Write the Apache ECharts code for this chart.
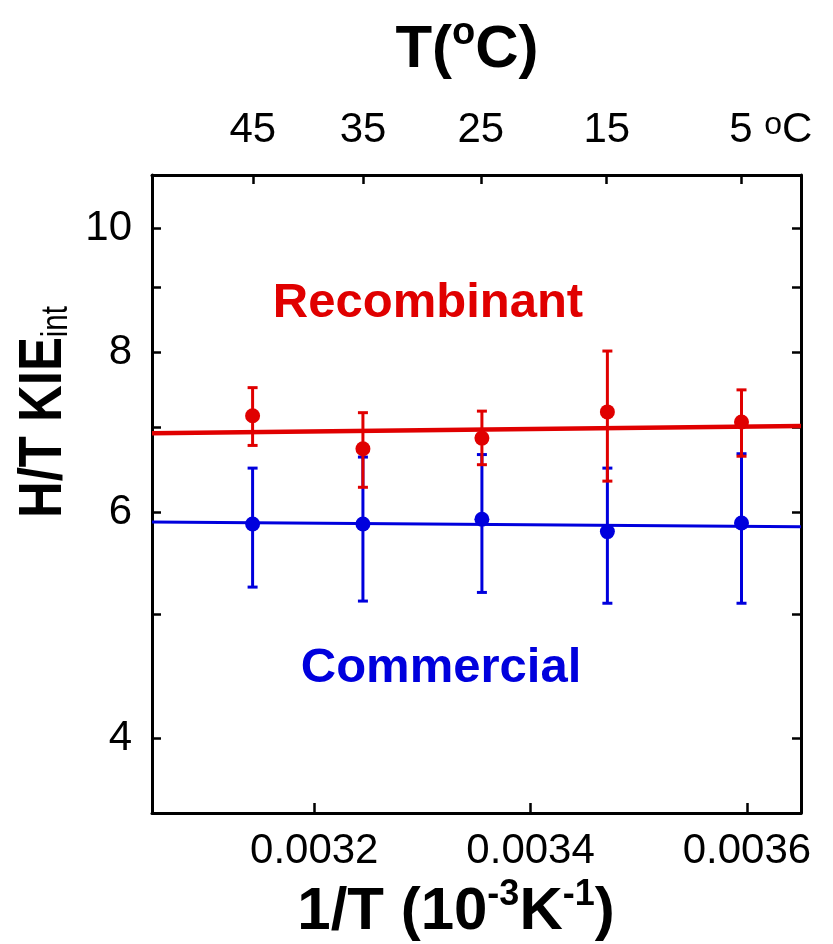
<!DOCTYPE html>
<html>
<head>
<meta charset="UTF-8">
<title>H/T KIE</title>
<script type="text/javascript" src="https://cdn.jsdelivr.net/npm/echarts@6/dist/echarts.min.js"></script>
<style>
  html, body { margin: 0; padding: 0; background: #fff; }
  #main { width: 833px; height: 944px; }
</style>
</head>
<body>
<div id="main"></div>
<script type="text/javascript">
// 1/T of each measurement (K^-1)
var invT = [0.003143, 0.003245, 0.003355, 0.003471, 0.003595];
// Recombinant
var recMean = [7.14, 6.73, 6.86, 7.19, 7.06];
var recLow = [6.77, 6.28, 6.54, 6.35, 6.64];
var recHigh = [7.51, 7.18, 7.20, 8.02, 7.48];
// Commercial
var comMean = [5.88, 5.88, 5.93, 5.80, 5.89];
var comLow = [5.25, 5.12, 5.20, 5.10, 5.10];
var comHigh = [6.50, 6.63, 6.66, 6.50, 6.67];
// fitted lines (ends at the axis limits)
var fitX = [0.00305, 0.00365];
var recFit = [6.92, 7.01];
var comFit = [5.90, 5.85];
// axis ticks
var tempC = [45, 35, 25, 15, 5];
var xTicks = [0.0032, 0.0034, 0.0036];
var yTicks = [4, 5, 6, 7, 8, 9, 10];
var yLabels = [4, 6, 8, 10];

var RED = '#e00000', BLUE = '#0000dd';
var FONT = 'Liberation Sans, Arial, sans-serif';

function pairs(xs, ys) {
  var out = [];
  for (var i = 0; i < xs.length; i++) out.push([xs[i], ys[i]]);
  return out;
}
function triples(xs, lo, hi) {
  var out = [];
  for (var i = 0; i < xs.length; i++) out.push([xs[i], lo[i], hi[i]]);
  return out;
}
var topTicks = tempC.map(function (t) { return 1 / (t + 273.15); });

// error bars drawn through the axes
function errorBar(color) {
  return function (params, api) {
    var x = api.value(0);
    var lo = api.coord([x, api.value(1)]);
    var hi = api.coord([x, api.value(2)]);
    var hw = 5;
    var st = { stroke: color, lineWidth: 3 };
    return {
      type: 'group',
      children: [
        { type: 'line', shape: { x1: lo[0], y1: lo[1], x2: hi[0], y2: hi[1] }, style: st },
        { type: 'line', shape: { x1: lo[0] - hw, y1: lo[1], x2: lo[0] + hw, y2: lo[1] }, style: st },
        { type: 'line', shape: { x1: hi[0] - hw, y1: hi[1], x2: hi[0] + hw, y2: hi[1] }, style: st }
      ]
    };
  };
}

var axisLine = { show: true, onZero: false, lineStyle: { color: '#000', width: 3 } };
var tickStyle = { color: '#000', width: 2.5 };

var chart = echarts.init(document.getElementById('main'));
var option = {
  animation: false,
  backgroundColor: '#fff',
  grid: { left: 152, right: 32, top: 175, bottom: 131, containLabel: false },
  xAxis: [
    {
      type: 'value', position: 'bottom', min: 0.00305, max: 0.00365,
      axisLine: axisLine, splitLine: { show: false },
      axisTick: { inside: true, length: 10, lineStyle: tickStyle, customValues: xTicks },
      axisLabel: {
        customValues: xTicks, margin: 17, color: '#000', fontFamily: FONT, fontSize: 42,
        formatter: function (v) { return v.toFixed(4); }
      }
    },
    {
      type: 'value', position: 'top', min: 0.00305, max: 0.00365,
      axisLine: axisLine, splitLine: { show: false },
      axisTick: { inside: true, length: 9, lineStyle: tickStyle, customValues: topTicks },
      axisLabel: {
        customValues: topTicks, margin: 24, color: '#000', fontFamily: FONT, fontSize: 42,
        formatter: function (v) {
          var t = Math.round(1 / v - 273.15);
          if (t === 5) return '{pad| }{n|5}{n| }{o|o}{n|C}';
          return '{n|' + t + '}';
        },
        rich: {
          n: { fontFamily: FONT, fontSize: 42, color: '#000', lineHeight: 42 },
          o: { fontFamily: FONT, fontSize: 32, color: '#000', verticalAlign: 'top', lineHeight: 12 },
          pad: { width: 58 }
        }
      }
    }
  ],
  yAxis: [
    {
      type: 'log', logBase: 10, min: 3.5, max: 11, position: 'left',
      axisLine: axisLine, splitLine: { show: false }, minorTick: { show: false },
      axisTick: { inside: true, length: 9, lineStyle: tickStyle, customValues: yTicks },
      axisLabel: { customValues: yLabels, margin: 20, color: '#000', fontFamily: FONT, fontSize: 42 }
    },
    {
      type: 'log', logBase: 10, min: 3.5, max: 11, position: 'right',
      axisLine: axisLine, splitLine: { show: false },
      axisTick: { inside: true, length: 9, lineStyle: tickStyle, customValues: yTicks },
      axisLabel: { show: false }
    }
  ],
  series: [
    {
      name: 'Recombinant fit', type: 'line', data: pairs(fitX, recFit),
      showSymbol: false, symbol: 'none', lineStyle: { color: RED, width: 4.5 }, z: 2
    },
    {
      name: 'Commercial fit', type: 'line', data: pairs(fitX, comFit),
      showSymbol: false, symbol: 'none', lineStyle: { color: BLUE, width: 3 }, z: 2
    },
    {
      name: 'Commercial err', type: 'custom', renderItem: errorBar(BLUE),
      data: triples(invT, comLow, comHigh), encode: { x: 0, y: [1, 2] }, z: 3
    },
    {
      name: 'Recombinant err', type: 'custom', renderItem: errorBar(RED),
      data: triples(invT, recLow, recHigh), encode: { x: 0, y: [1, 2] }, z: 3
    },
    {
      name: 'Commercial', type: 'scatter', data: pairs(invT, comMean),
      symbol: 'circle', symbolSize: 15, itemStyle: { color: BLUE, opacity: 1 }, z: 4
    },
    {
      name: 'Recombinant', type: 'scatter', data: pairs(invT, recMean),
      symbol: 'circle', symbolSize: 15, itemStyle: { color: RED, opacity: 1 }, z: 4
    }
  ],
  graphic: [
    {
      type: 'text', x: 467, y: 50,
      style: {
        text: '{b|T(}{o|o}{b|C)}', align: 'center', verticalAlign: 'middle',
        rich: {
          b: { fontFamily: FONT, fontWeight: 'bold', fontSize: 60, lineHeight: 70, fill: '#000' },
          o: { fontFamily: FONT, fontWeight: 'bold', fontSize: 38, verticalAlign: 'top', lineHeight: 34, fill: '#000' }
        }
      }
    },
    {
      type: 'text', x: 456, y: 912,
      style: {
        text: '{b|1/T (10}{s|-3}{b|K}{s|-1}{b|)}', align: 'center', verticalAlign: 'middle',
        rich: {
          b: { fontFamily: FONT, fontWeight: 'bold', fontSize: 60, lineHeight: 70, fill: '#000' },
          s: { fontFamily: FONT, fontWeight: 'bold', fontSize: 36, verticalAlign: 'top', lineHeight: 40, fill: '#000' }
        }
      }
    },
    {
      type: 'text', x: 44, y: 412, rotation: Math.PI / 2, scaleX: 0.82,
      style: {
        text: '{b|H/T KIE}{s|int}', align: 'center', verticalAlign: 'middle',
        rich: {
          b: { fontFamily: FONT, fontWeight: 'bold', fontSize: 62, lineHeight: 62, fill: '#000' },
          s: { fontFamily: FONT, fontSize: 36, verticalAlign: 'bottom', lineHeight: 2, fill: '#000' }
        }
      }
    },
    {
      type: 'text', x: 428, y: 303,
      style: {
        text: 'Recombinant', align: 'center', verticalAlign: 'middle',
        fontFamily: FONT, fontWeight: 'bold', fontSize: 49, fill: RED
      }
    },
    {
      type: 'text', x: 441, y: 668,
      style: {
        text: 'Commercial', align: 'center', verticalAlign: 'middle',
        fontFamily: FONT, fontWeight: 'bold', fontSize: 49, fill: BLUE
      }
    }
  ]
};
chart.setOption(option);
</script>
</body>
</html>
